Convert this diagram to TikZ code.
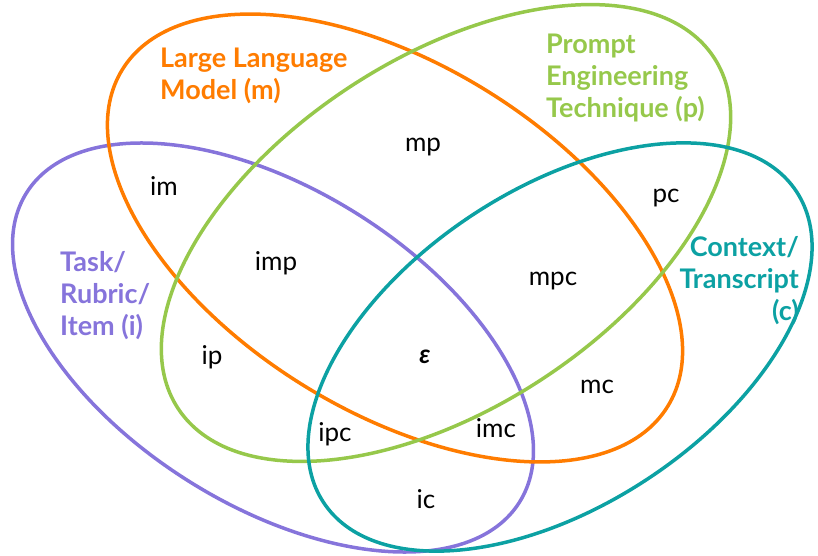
\documentclass[tikz,border=0pt]{standalone}
\usepackage{fontspec}
\setmainfont{Lato}

\definecolor{llmorange}{HTML}{FF7C00}
\definecolor{pegreen}{HTML}{96C84B}
\definecolor{taskpurple}{HTML}{8674DB}
\definecolor{ctxteal}{HTML}{0CA1A3}

\begin{document}
\begin{tikzpicture}[x=1pt,y=1pt,
    set/.style={line width=3.5pt},
    setname/.style={font=\fontsize{27}{32}\selectfont\bfseries, inner sep=0pt},
    region/.style={font=\fontsize{26}{30}\selectfont, inner sep=0pt, text height=1ex, text depth=0pt}]

        \useasboundingbox (0,0) rectangle (818,-556);

        % the four sets
        \draw[set, taskpurple] (273,-347.5) circle [x radius=291pt, y radius=158pt, rotate=-32.1];
        \draw[set, llmorange] (395,-238) circle [x radius=320.5pt, y radius=173.5pt, rotate=-31.7];
        \draw[set, pegreen] (446,-233) circle [x radius=320.3pt, y radius=174.9pt, rotate=33.2];
        \draw[set, ctxteal] (560,-347) circle [x radius=283pt, y radius=158.4pt, rotate=33.3];

        % set names
        \node (llm) at (160,-76) [setname, anchor=west, align=left, text=llmorange] {Large Language\\Model (m)};
        \node (pet) at (546,-78) [setname, anchor=west, align=left, text=pegreen] {Prompt\\Engineering\\Technique (p)};
        \node (task) at (60,-296) [setname, anchor=west, align=left, text=taskpurple] {Task/\\Rubric/\\Item (i)};
        \node (ctx) at (799,-281) [setname, anchor=east, align=right, text=ctxteal] {Context/\\Transcript\\(c)};

        % regions
        \node (mp) at (423,-149) [region] {mp};
        \node (im) at (164,-193) [region] {im};
        \node (pc) at (666,-200) [region] {pc};
        \node (imp) at (276,-268) [region] {imp};
        \node (mpc) at (553,-283) [region] {mpc};
        \node (ip) at (212,-362) [region] {ip};
        \node (eps) at (425,-361) [region, font=\fontsize{26}{30}\selectfont\bfseries\itshape] {ε};
        \node (mc) at (597,-391) [region] {mc};
        \node (ipc) at (335,-439) [region] {ipc};
        \node (imc) at (496,-435) [region] {imc};
        \node (ic) at (426,-506) [region] {ic};

\end{tikzpicture}
\end{document}
